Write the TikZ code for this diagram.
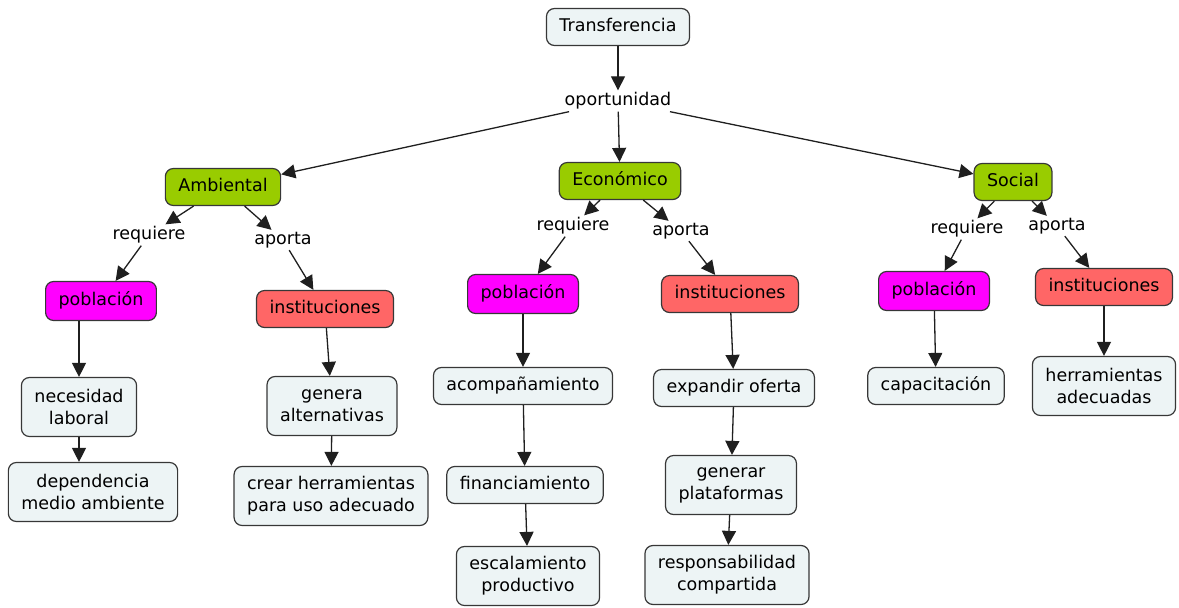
\documentclass[tikz,border=0pt]{standalone}
\usepackage{fontspec}
\setmainfont{DejaVu Sans}
\usetikzlibrary{arrows.meta}

\definecolor{conceptfill}{RGB}{237,244,245}
\definecolor{areagreen}{RGB}{153,204,0}
\definecolor{popmagenta}{RGB}{255,0,255}
\definecolor{instred}{RGB}{255,102,102}
\definecolor{edgegray}{RGB}{55,55,55}

\tikzset{
  cbox/.style={draw=edgegray, line width=1.2pt, rounded corners=8pt, fill=conceptfill,
    align=center, inner xsep=13pt, inner ysep=10pt,
    font=\fontsize{17.5}{20.5}\selectfont},
  concept/.style={cbox, text height=13pt, text depth=4pt},
  twoline/.style={cbox, minimum height=59pt, font=\fontsize{17.5}{22}\selectfont},
  area/.style={concept, fill=areagreen},
  pop/.style={concept, fill=popmagenta, inner ysep=11pt},
  inst/.style={concept, fill=instred},
  linkword/.style={inner sep=2pt, font=\fontsize{17.5}{20.5}\selectfont},
  link/.style={draw=black!88, line width=1.3pt, -{Triangle[length=14pt,width=14pt]}},
}

\begin{document}
\begin{tikzpicture}[x=1pt,y=1pt,yscale=-1,xscale=1]
\useasboundingbox (0,0) rectangle (1179,608);

% Root
\node [concept] (transf) at (618,27) {Transferencia};
\node [linkword] (oport) at (618,101) {oportunidad};

% Areas
\node [area] (amb) at (223,187) {Ambiental};
\node [area] (eco) at (620,181) {Económico};
\node [area] (soc) at (1013,182) {Social};

% Linking phrases
\node [linkword] (reqA) at (149,235) {requiere};
\node [linkword] (apoA) at (283,240) {aporta};
\node [linkword] (reqE) at (573,226) {requiere};
\node [linkword] (apoE) at (681,231) {aporta};
\node [linkword] (reqS) at (967,229) {requiere};
\node [linkword] (apoS) at (1057,226) {aporta};

% Poblacion / instituciones
\node [pop] (pobA) at (101,301) {población};
\node [inst] (instA) at (325,309) {instituciones};
\node [pop] (pobE) at (523,294) {población};
\node [inst] (instE) at (730,294) {instituciones};
\node [pop] (pobS) at (934,291) {población};
\node [inst] (instS) at (1104,287) {instituciones};

% Ambiental branch
\node [twoline] (neces) at (79,407) {necesidad\\laboral};
\node [twoline] (depen) at (93,492) {dependencia\\medio ambiente};
\node [twoline] (genera) at (332,406) {genera\\alternativas};
\node [twoline] (crear) at (331,496) {crear herramientas\\para uso adecuado};

% Economico branch
\node [concept] (acomp) at (523,386) {acompañamiento};
\node [concept] (financ) at (525,485) {financiamiento};
\node [twoline] (escal) at (528,576) {escalamiento\\productivo};
\node [concept] (expand) at (734,388) {expandir oferta};
\node [twoline] (generar) at (731,485) {generar\\plataformas};
\node [twoline] (respon) at (727,575) {responsabilidad\\compartida};

% Social branch
\node [concept] (capac) at (936,386) {capacitación};
\node [twoline] (herram) at (1104,386) {herramientas\\adecuadas};

% Connectors
\draw [link] (transf) -- (oport);
\draw [link] (oport) -- (amb);
\draw [link] (oport) -- (eco);
\draw [link] (oport) -- (soc);

\draw [link] (amb) -- (reqA);
\draw [link] (amb) -- (apoA);
\draw [link] (reqA) -- (pobA);
\draw [link] (apoA) -- (instA);
\draw [link] (eco) -- (reqE);
\draw [link] (eco) -- (apoE);
\draw [link] (reqE) -- (pobE);
\draw [link] (apoE) -- (instE);
\draw [link] (soc) -- (reqS);
\draw [link] (soc) -- (apoS);
\draw [link] (reqS) -- (pobS);
\draw [link] (apoS) -- (instS);

\draw [link] (neces.north |- pobA.south) -- (neces.north);
\draw [link] (neces.south) -- (neces.south |- depen.north);
\draw [link] (instA) -- (genera);
\draw [link] (genera) -- (crear);

\draw [link] (pobE) -- (acomp);
\draw [link] (acomp) -- (financ);
\draw [link] (financ) -- (escal);
\draw [link] (instE) -- (expand);
\draw [link] (expand) -- (generar);
\draw [link] (generar) -- (respon);

\draw [link] (pobS) -- (capac);
\draw [link] (instS) -- (herram);

\end{tikzpicture}
\end{document}
